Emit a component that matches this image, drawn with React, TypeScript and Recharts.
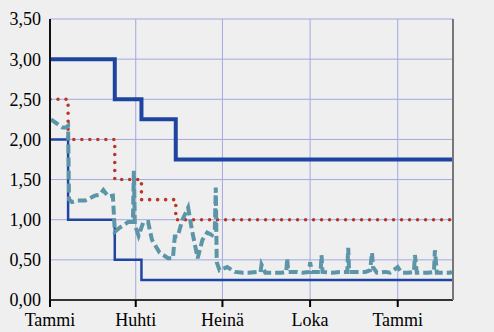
import React from "react";
import { LineChart, Line, XAxis, YAxis, CartesianGrid } from "recharts";

const monthLabels = ["Tammi", "Huhti", "Heinä", "Loka", "Tammi"];
const monthDays = [0, 90, 181, 273, 365];
const yTicks = [0, 0.5, 1, 1.5, 2, 2.5, 3, 3.5];

const thickDays = [0, 68, 96, 132, 423];
const thickValues = [3.0, 2.5, 2.25, 1.75, 1.75];

const thinDays = [0, 19, 68, 96, 423];
const thinValues = [2.0, 1.0, 0.5, 0.25, 0.25];

const redDays = [0, 19, 68, 96, 132, 423];
const redValues = [2.5, 2.0, 1.5, 1.25, 1.0, 1.0];

const tealDays = [
  1, 8, 13, 17, 19, 20, 23, 29, 37, 42, 47, 52, 56, 61, 66, 68, 73, 82, 87, 88,
  89, 93, 98, 103, 107, 115, 124, 129, 131, 134, 139, 145, 149, 155, 160, 165, 170, 173, 174, 175,
  178, 186, 194, 203, 208, 217, 221, 222, 226, 234, 243, 248, 249, 250, 259, 265, 272, 273, 275, 281,
  284, 285, 286, 297, 304, 312, 313, 314, 322, 331, 336, 338, 339, 343, 352, 357, 365, 369, 376, 382,
  383, 385, 391, 397, 403, 404, 406, 412, 420, 422,
];
const tealValues = [
  2.25, 2.19, 2.15, 2.15, 2.17, 1.25, 1.22, 1.24, 1.24, 1.27, 1.3, 1.31, 1.37, 1.29, 1.3, 0.85, 0.9, 0.97, 0.97, 1.61,
  0.94, 0.8, 0.97, 0.97, 0.75, 0.59, 0.52, 0.52, 0.79, 0.79, 1.0, 1.15, 0.87, 0.52, 0.75, 0.84, 0.81, 0.88, 1.4, 0.47,
  0.37, 0.41, 0.35, 0.34, 0.34, 0.35, 0.35, 0.44, 0.34, 0.34, 0.34, 0.35, 0.52, 0.35, 0.35, 0.34, 0.35, 0.47, 0.35, 0.35,
  0.35, 0.56, 0.35, 0.34, 0.35, 0.35, 0.65, 0.35, 0.35, 0.35, 0.37, 0.59, 0.41, 0.34, 0.35, 0.34, 0.41, 0.34, 0.34, 0.35,
  0.56, 0.34, 0.34, 0.34, 0.35, 0.62, 0.34, 0.34, 0.34, 0.35,
];

const toSeries = (days: number[], values: number[]) =>
  days.map((d, i) => ({ day: d, v: values[i] }));

const thickData = toSeries(thickDays, thickValues);
const thinData = toSeries(thinDays, thinValues);
const redData = toSeries(redDays, redValues);
const tealData = toSeries(tealDays, tealValues);

const fmt = (v: number) => v.toFixed(2).replace(".", ",");
const monthFmt = (d: number) => {
  const i = monthDays.indexOf(d);
  return i >= 0 ? monthLabels[i] : "";
};

const FONT = "'Liberation Serif', 'Times New Roman', serif";
const tickStyle = { fill: "#000", fontSize: 18, fontFamily: FONT, style: { fontFamily: FONT } };

export default function App() {
  return (
    <div
      style={{
        position: "absolute",
        left: 0,
        top: 0,
        width: 494,
        height: 332,
        background: "#efefef",
        fontFamily: FONT,
      }}
    >
      <LineChart
        width={494}
        height={332}
        margin={{ top: 19, right: 0, left: 0, bottom: 0 }}
        style={{ fontFamily: FONT }}
      >
        <CartesianGrid yAxisId="left" stroke="#a3a8e2" strokeWidth={1} />
        <XAxis
          dataKey="day"
          type="number"
          domain={[0, 423]}
          ticks={monthDays}
          tickFormatter={monthFmt}
          allowDataOverflow
          height={32}
          tick={tickStyle}
          tickSize={7}
          tickMargin={6}
          axisLine={{ stroke: "#333", strokeWidth: 2 }}
          tickLine={{ stroke: "#000", strokeWidth: 2 }}
          interval={0}
        />
        <YAxis
          yAxisId="left"
          orientation="left"
          domain={[0, 3.5]}
          ticks={yTicks}
          tickFormatter={fmt}
          width={50}
          tick={tickStyle}
          tickLine={false}
          tickMargin={3}
          axisLine={{ stroke: "#111", strokeWidth: 2 }}
          interval={0}
        />
        <YAxis
          yAxisId="right"
          orientation="right"
          domain={[0, 3.5]}
          ticks={yTicks}
          tickFormatter={fmt}
          width={41}
          tick={tickStyle}
          tickLine={false}
          tickMargin={1}
          axisLine={{ stroke: "#777", strokeWidth: 2 }}
          interval={0}
        />
        <Line
          yAxisId="left"
          data={thinData}
          dataKey="v"
          type="stepAfter"
          stroke="#1f45a3"
          strokeWidth={2.5}
          dot={false}
          isAnimationActive={false}
        />
        <Line
          yAxisId="left"
          data={redData}
          dataKey="v"
          type="stepAfter"
          stroke="#b8362a"
          strokeWidth={3.6}
          strokeDasharray="0 8"
          strokeLinecap="round"
          dot={false}
          isAnimationActive={false}
        />
        <Line
          yAxisId="left"
          data={tealData}
          dataKey="v"
          type="linear"
          stroke="#5d95a8"
          strokeWidth={4}
          strokeDasharray="9 4"
          dot={false}
          isAnimationActive={false}
        />
        <Line
          yAxisId="left"
          data={thickData}
          dataKey="v"
          type="stepAfter"
          stroke="#1c44a0"
          strokeWidth={4}
          dot={false}
          isAnimationActive={false}
        />
      </LineChart>
    </div>
  );
}
